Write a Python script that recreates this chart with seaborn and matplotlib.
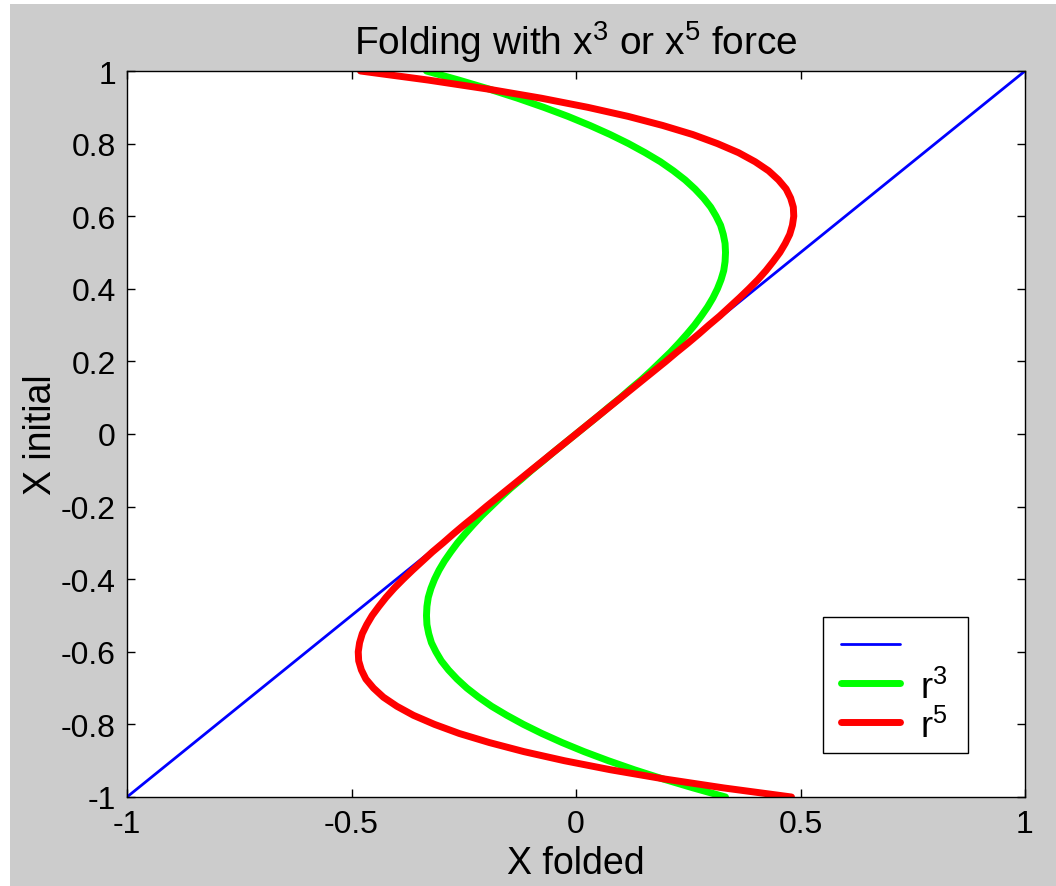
"""
Folding with x^3 or x^5 force - MATLAB-style line chart redone with seaborn.
"""
import matplotlib
matplotlib.use('Agg')
import matplotlib.pyplot as plt
from matplotlib.patches import Rectangle
from matplotlib.lines import Line2D
import seaborn as sns

# X initial values (shared by the two folded curves)
x_initial = [-1.0, -0.975, -0.95, -0.925, -0.9, -0.875, -0.85, -0.825, -0.8, -0.775,
             -0.75, -0.725, -0.7, -0.675, -0.65, -0.625, -0.6, -0.575, -0.55, -0.525,
             -0.5, -0.475, -0.45, -0.425, -0.4, -0.375, -0.35, -0.325, -0.3, -0.275,
             -0.25, -0.225, -0.2, -0.175, -0.15, -0.125, -0.1, -0.075, -0.05, -0.025,
             0.0, 0.025, 0.05, 0.075, 0.1, 0.125, 0.15, 0.175, 0.2, 0.225,
             0.25, 0.275, 0.3, 0.325, 0.35, 0.375, 0.4, 0.425, 0.45, 0.475,
             0.5, 0.525, 0.55, 0.575, 0.6, 0.625, 0.65, 0.675, 0.7, 0.725,
             0.75, 0.775, 0.8, 0.825, 0.85, 0.875, 0.9, 0.925, 0.95, 0.975, 1.0]

# X folded for the r^3 curve (green)
folded_r3 = [0.333, 0.261, 0.193, 0.130, 0.072, 0.018, -0.031, -0.076, -0.117, -0.154,
             -0.188, -0.217, -0.243, -0.265, -0.284, -0.300, -0.312, -0.322, -0.328, -0.332,
             -0.333, -0.332, -0.329, -0.323, -0.315, -0.305, -0.293, -0.279, -0.264, -0.247,
             -0.229, -0.210, -0.189, -0.168, -0.146, -0.122, -0.099, -0.074, -0.050, -0.025,
             0.0, 0.025, 0.050, 0.074, 0.099, 0.122, 0.146, 0.168, 0.189, 0.210,
             0.229, 0.247, 0.264, 0.279, 0.293, 0.305, 0.315, 0.323, 0.329, 0.332,
             0.333, 0.332, 0.328, 0.322, 0.312, 0.300, 0.284, 0.265, 0.243, 0.217,
             0.188, 0.154, 0.117, 0.076, 0.031, -0.018, -0.072, -0.130, -0.193, -0.261, -0.333]

# X folded for the r^5 curve (red)
folded_r5 = [0.480, 0.329, 0.195, 0.077, -0.026, -0.116, -0.193, -0.260, -0.315, -0.362,
             -0.399, -0.429, -0.451, -0.468, -0.478, -0.484, -0.485, -0.482, -0.476, -0.466,
             -0.454, -0.439, -0.423, -0.405, -0.385, -0.364, -0.342, -0.320, -0.296, -0.273,
             -0.249, -0.224, -0.200, -0.175, -0.150, -0.125, -0.100, -0.075, -0.050, -0.025,
             0.0, 0.025, 0.050, 0.075, 0.100, 0.125, 0.150, 0.175, 0.200, 0.224,
             0.249, 0.273, 0.296, 0.320, 0.342, 0.364, 0.385, 0.405, 0.423, 0.439,
             0.454, 0.466, 0.476, 0.482, 0.485, 0.484, 0.478, 0.468, 0.451, 0.429,
             0.399, 0.362, 0.315, 0.260, 0.193, 0.116, 0.026, -0.077, -0.195, -0.329, -0.480]

# identity line (blue)
identity_x = [-1.0, 1.0]
identity_y = [-1.0, 1.0]

legend_labels = ['', 'r$^{3}$', 'r$^{5}$']

sns.set_style('ticks')
plt.rcParams['font.family'] = ['Liberation Sans', 'DejaVu Sans']
plt.rcParams['mathtext.fontset'] = 'custom'
plt.rcParams['mathtext.rm'] = 'Liberation Sans'
plt.rcParams['mathtext.it'] = 'Liberation Sans'
plt.rcParams['mathtext.bf'] = 'Liberation Sans'
plt.rcParams['text.color'] = 'black'
plt.rcParams['axes.labelcolor'] = 'black'
plt.rcParams['xtick.color'] = 'black'
plt.rcParams['ytick.color'] = 'black'

W, H = 1056, 887
fig = plt.figure(figsize=(W / 100, H / 100), dpi=100, facecolor='white')
fig.patches.append(Rectangle((10 / W, 0), 1, (H - 5) / H, transform=fig.transFigure,
                             facecolor='#cccccc', edgecolor='none', zorder=-10))
ax = fig.add_axes([127 / W, (H - 798) / H, 898 / W, 726 / H])
ax.set_facecolor('white')

sns.lineplot(x=identity_x, y=identity_y, ax=ax, color='#0000ff', lw=2,
             sort=False, estimator=None)
sns.lineplot(x=folded_r3, y=x_initial, ax=ax, color='#00ff00', lw=5,
             sort=False, estimator=None)
sns.lineplot(x=folded_r5, y=x_initial, ax=ax, color='#ff0000', lw=5,
             sort=False, estimator=None)

ax.set_xlim(-1, 1)
ax.set_ylim(-1, 1)
ax.set_xticks([-1, -0.5, 0, 0.5, 1])
ax.set_xticklabels(['-1', '-0.5', '0', '0.5', '1'])
ax.set_yticks([-1, -0.8, -0.6, -0.4, -0.2, 0, 0.2, 0.4, 0.6, 0.8, 1])
ax.set_yticklabels(['-1', '-0.8', '-0.6', '-0.4', '-0.2', '0', '0.2', '0.4', '0.6', '0.8', '1'])
ax.tick_params(direction='in', length=6, width=1, top=True, right=True,
               labelsize=23, colors='black')
ax.tick_params(axis='x', pad=9)
ax.tick_params(axis='y', pad=8)
for s in ax.spines.values():
    s.set_visible(True)
    s.set_color('black')
    s.set_linewidth(1)

ax.set_title('Folding with x$^{3}$ or x$^{5}$ force', fontsize=28, pad=12, color='black')
ax.set_xlabel('X folded', fontsize=27, labelpad=4)
ax.set_ylabel('X initial', fontsize=27, labelpad=1)

# legend box drawn by hand (MATLAB style: wide side padding, tight rows)
ax.add_patch(Rectangle((696 / 898, 44 / 726), 145 / 898, 136 / 726,
                       transform=ax.transAxes, facecolor='white',
                       edgecolor='black', lw=1, zorder=5))
handles = [Line2D([], [], color='#0000ff', lw=2),
           Line2D([], [], color='#00ff00', lw=5),
           Line2D([], [], color='#ff0000', lw=5)]
leg = ax.legend(handles, legend_labels, loc='upper left',
                bbox_to_anchor=(714 / 898, 168 / 726), borderaxespad=0,
                fontsize=26, frameon=False, handlelength=1.64, handleheight=1.2,
                labelspacing=0.0, borderpad=0, handletextpad=0.55)
leg.set_zorder(6)

fig.savefig('out.png', dpi=100, facecolor=fig.get_facecolor())
